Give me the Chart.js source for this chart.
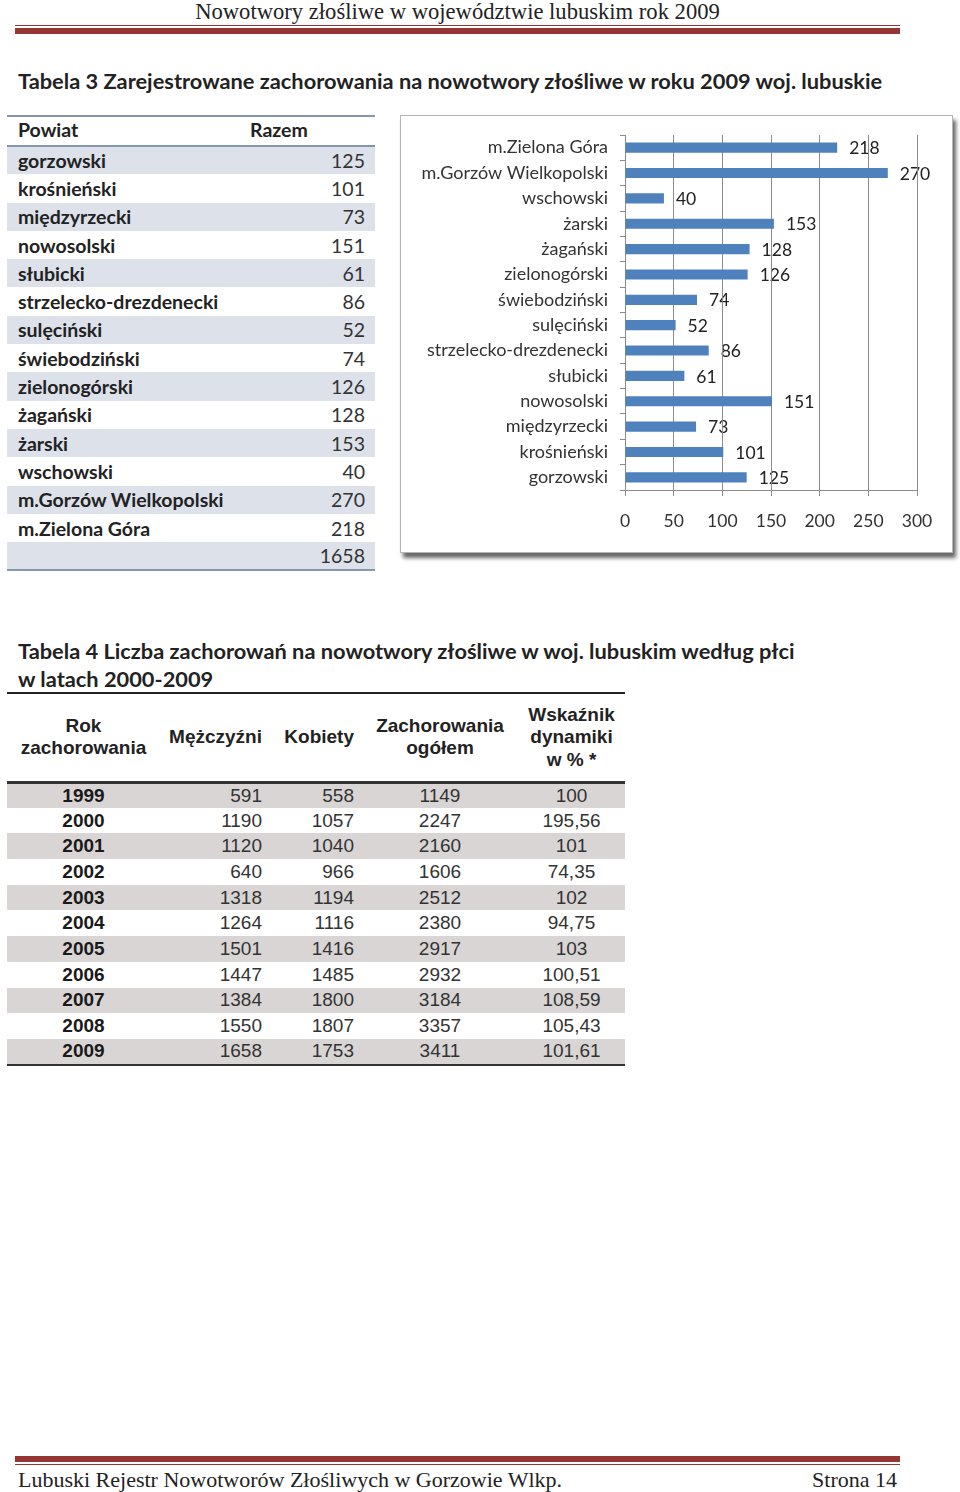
<!DOCTYPE html>
<html lang="pl">
<head>
<meta charset="utf-8">
<title>Nowotwory złośliwe w województwie lubuskim rok 2009</title>
<script src="https://cdn.jsdelivr.net/npm/chart.js@4.4.1/dist/chart.umd.min.js"></script>
<style>
  html, body { margin: 0; padding: 0; background: #fff; }
  body { width: 960px; height: 1492px; position: relative; overflow: hidden; font-family: Lato, sans-serif; color: #222; }
  .serif { font-family: "Liberation Serif", serif; color: #222; }
  #hdr { position: absolute; left: 15px; width: 885px; top: 0; line-height: 24px; text-align: center; font-size: 22.6px; }
  .rule-thin { position: absolute; left: 15px; width: 885px; height: 1px; background: #943634; }
  .rule-thick { position: absolute; left: 15px; width: 885px; height: 6px; background: #943634; }
  #ftr { position: absolute; left: 18px; top: 1467px; line-height: 26px; font-size: 22px; }
  #pg { position: absolute; right: 63px; top: 1467px; line-height: 26px; font-size: 22px; }
  .title { position: absolute; left: 18px; font-weight: bold; font-size: 21.8px; line-height: 28px; color: #222; }

  #t3 { position: absolute; left: 7px; top: 115px; width: 368px; border-collapse: collapse; font-size: 19.5px; }
  #t3 thead tr { height: 30px; border-top: 2px solid #8496b0; border-bottom: 2px solid #8496b0; }
  #t3 tbody tr { height: 28.3px; }
  #t3 tbody tr:last-child { border-bottom: 2px solid #8496b0; }
  #t3 tbody tr:nth-child(odd) { background: #dce1ea; }
  #t3 th { font-weight: bold; text-align: left; padding: 0 0 3px 0; }
  #t3 td { padding: 0; }
  #t3 td.n { font-weight: bold; padding-left: 11px; }
  #t3 th.n { padding-left: 11px; }
  #t3 td.v { text-align: right; padding-right: 10px; color: #333; }

  #box { position: absolute; left: 400px; top: 115px; width: 551px; height: 436px; border: 1px solid #b5b5b5; box-shadow: 3px 5px 4px rgba(0,0,0,0.6); background: #fff; }
  #wrap { position: absolute; left: 402px; top: 117px; width: 548px; height: 430px; }

  #t4 { position: absolute; left: 7px; top: 692px; width: 618px; border-collapse: collapse; font-family: "Liberation Sans", Arial, sans-serif; font-size: 19px; }
  #t4 thead tr { height: 89px; border-top: 2px solid #222; border-bottom: 3px solid #333; }
  #t4 th { font-weight: bold; line-height: 22.5px; padding: 0; color: #222; }
  #t4 tbody tr { height: 25.7px; }
  #t4 tbody tr:last-child { border-bottom: 2px solid #333; }
  #t4 tbody tr:nth-child(odd) { background: #d9d5d5; }
  #t4 td { padding: 0; color: #333; line-height: 20px; }
  #t4 td.y { font-weight: bold; text-align: center; color: #1a1a1a; }
  #t4 td.r { text-align: right; padding-right: 8px; }
  #t4 td.c { text-align: center; }
</style>
</head>
<body>
<div id="hdr" class="serif">Nowotwory złośliwe w województwie lubuskim rok 2009</div>
<div class="rule-thin" style="top:25px"></div>
<div class="rule-thick" style="top:28px"></div>

<div class="title" style="top:67px">Tabela 3 Zarejestrowane zachorowania na nowotwory złośliwe w roku 2009 woj. lubuskie</div>

<table id="t3">
  <colgroup><col style="width:243px"><col style="width:125px"></colgroup>
  <thead><tr><th class="n">Powiat</th><th>Razem</th></tr></thead>
  <tbody></tbody>
</table>

<div id="box"></div>
<div id="wrap"><canvas id="powiatChart"></canvas></div>

<div class="title" style="top:637px">Tabela 4 Liczba zachorowań na nowotwory złośliwe w woj. lubuskim według płci<br>w latach 2000-2009</div>

<table id="t4">
  <colgroup><col style="width:153px"><col style="width:110px"><col style="width:92px"><col style="width:156px"><col style="width:107px"></colgroup>
  <thead><tr>
    <th>Rok<br>zachorowania</th>
    <th style="text-align:right;padding-right:8px">Mężczyźni</th>
    <th style="text-align:right;padding-right:8px">Kobiety</th>
    <th>Zachorowania<br>ogółem</th>
    <th>Wskaźnik<br>dynamiki<br>w % *</th>
  </tr></thead>
  <tbody></tbody>
</table>

<div class="rule-thick" style="top:1456px"></div>
<div class="rule-thin" style="top:1464px"></div>
<div id="ftr" class="serif">Lubuski Rejestr Nowotworów Złośliwych w Gorzowie Wlkp.</div>
<div id="pg" class="serif">Strona 14</div>

<script>
// Tabela 3 - powiaty
const powiaty = ['gorzowski', 'krośnieński', 'międzyrzecki', 'nowosolski', 'słubicki',
  'strzelecko-drezdenecki', 'sulęciński', 'świebodziński', 'zielonogórski', 'żagański',
  'żarski', 'wschowski', 'm.Gorzów Wielkopolski', 'm.Zielona Góra'];
const razem = [125, 101, 73, 151, 61, 86, 52, 74, 126, 128, 153, 40, 270, 218];
const razemSuma = 1658;
const osX = [0, 50, 100, 150, 200, 250, 300];

// Tabela 4 - lata
const lata = ['1999', '2000', '2001', '2002', '2003', '2004', '2005', '2006', '2007', '2008', '2009'];
const mezczyzni = [591, 1190, 1120, 640, 1318, 1264, 1501, 1447, 1384, 1550, 1658];
const kobiety = [558, 1057, 1040, 966, 1194, 1116, 1416, 1485, 1800, 1807, 1753];
const ogolem = [1149, 2247, 2160, 1606, 2512, 2380, 2917, 2932, 3184, 3357, 3411];
const dynamika = ['100', '195,56', '101', '74,35', '102', '94,75', '103', '100,51', '108,59', '105,43', '101,61'];

// tables
let rows3 = '';
powiaty.forEach((p, i) => {
  rows3 += `<tr><td class="n">${p}</td><td class="v">${razem[i]}</td></tr>`;
});
rows3 += `<tr><td></td><td class="v">${razemSuma}</td></tr>`;
document.querySelector('#t3 tbody').innerHTML = rows3;

let rows4 = '';
lata.forEach((r, i) => {
  rows4 += `<tr><td class="y">${r}</td><td class="r">${mezczyzni[i]}</td><td class="r">${kobiety[i]}</td>` +
    `<td class="c">${ogolem[i]}</td><td class="c">${dynamika[i]}</td></tr>`;
});
document.querySelector('#t4 tbody').innerHTML = rows4;

// chart - the bars go bottom-up in table order
const chartLabels = powiaty.slice().reverse();
const chartValues = razem.slice().reverse();

// values next to the bars, drawn before the grid so the grid lines cross them like in the source
const valueLabels = {
  id: 'valueLabels',
  beforeDraw(chart) {
    const ctx = chart.ctx;
    const meta = chart.getDatasetMeta(0);
    ctx.save();
    ctx.font = '17.5px Lato';
    ctx.fillStyle = '#222';
    ctx.textBaseline = 'middle';
    meta.data.forEach((bar, i) => {
      ctx.fillText(chart.data.datasets[0].data[i], bar.x + 12, bar.y + 1);
    });
    ctx.restore();
  }
};

Chart.defaults.font.family = 'Lato';
Chart.defaults.font.size = 17.5;
Chart.defaults.color = '#333';

const ctx = document.getElementById('powiatChart').getContext('2d');
const powiatChart = new Chart(ctx, {
  type: 'bar',
  data: {
    labels: chartLabels,
    datasets: [{
      data: chartValues,
      backgroundColor: '#4f81bd',
      borderWidth: 0,
      barPercentage: 0.4,
      categoryPercentage: 1
    }]
  },
  options: {
    indexAxis: 'y',
    responsive: true,
    maintainAspectRatio: false,
    animation: false,
    layout: { padding: { top: 18, right: 33, bottom: 12, left: 0 } },
    plugins: {
      legend: { display: false },
      tooltip: { enabled: false }
    },
    scales: {
      x: {
        min: 0,
        max: 300,
        afterBuildTicks: (s) => { s.ticks = osX.map(v => ({ value: v })); },
        grid: { color: '#8c8c8c', tickLength: 6 },
        border: { color: '#8c8c8c' },
        ticks: { padding: 15, color: '#333' },
        afterFit: (s) => { s.height = 45; }
      },
      y: {
        grid: { offset: true, drawOnChartArea: false, color: '#8c8c8c', tickLength: 5 },
        border: { color: '#8c8c8c' },
        ticks: { padding: 12, color: '#333', font: { size: 18 } },
        afterFit: (s) => { s.width = 223; s.paddingTop = 0; s.paddingBottom = 0; }
      }
    }
  },
  plugins: [valueLabels]
});
</script>
</body>
</html>
